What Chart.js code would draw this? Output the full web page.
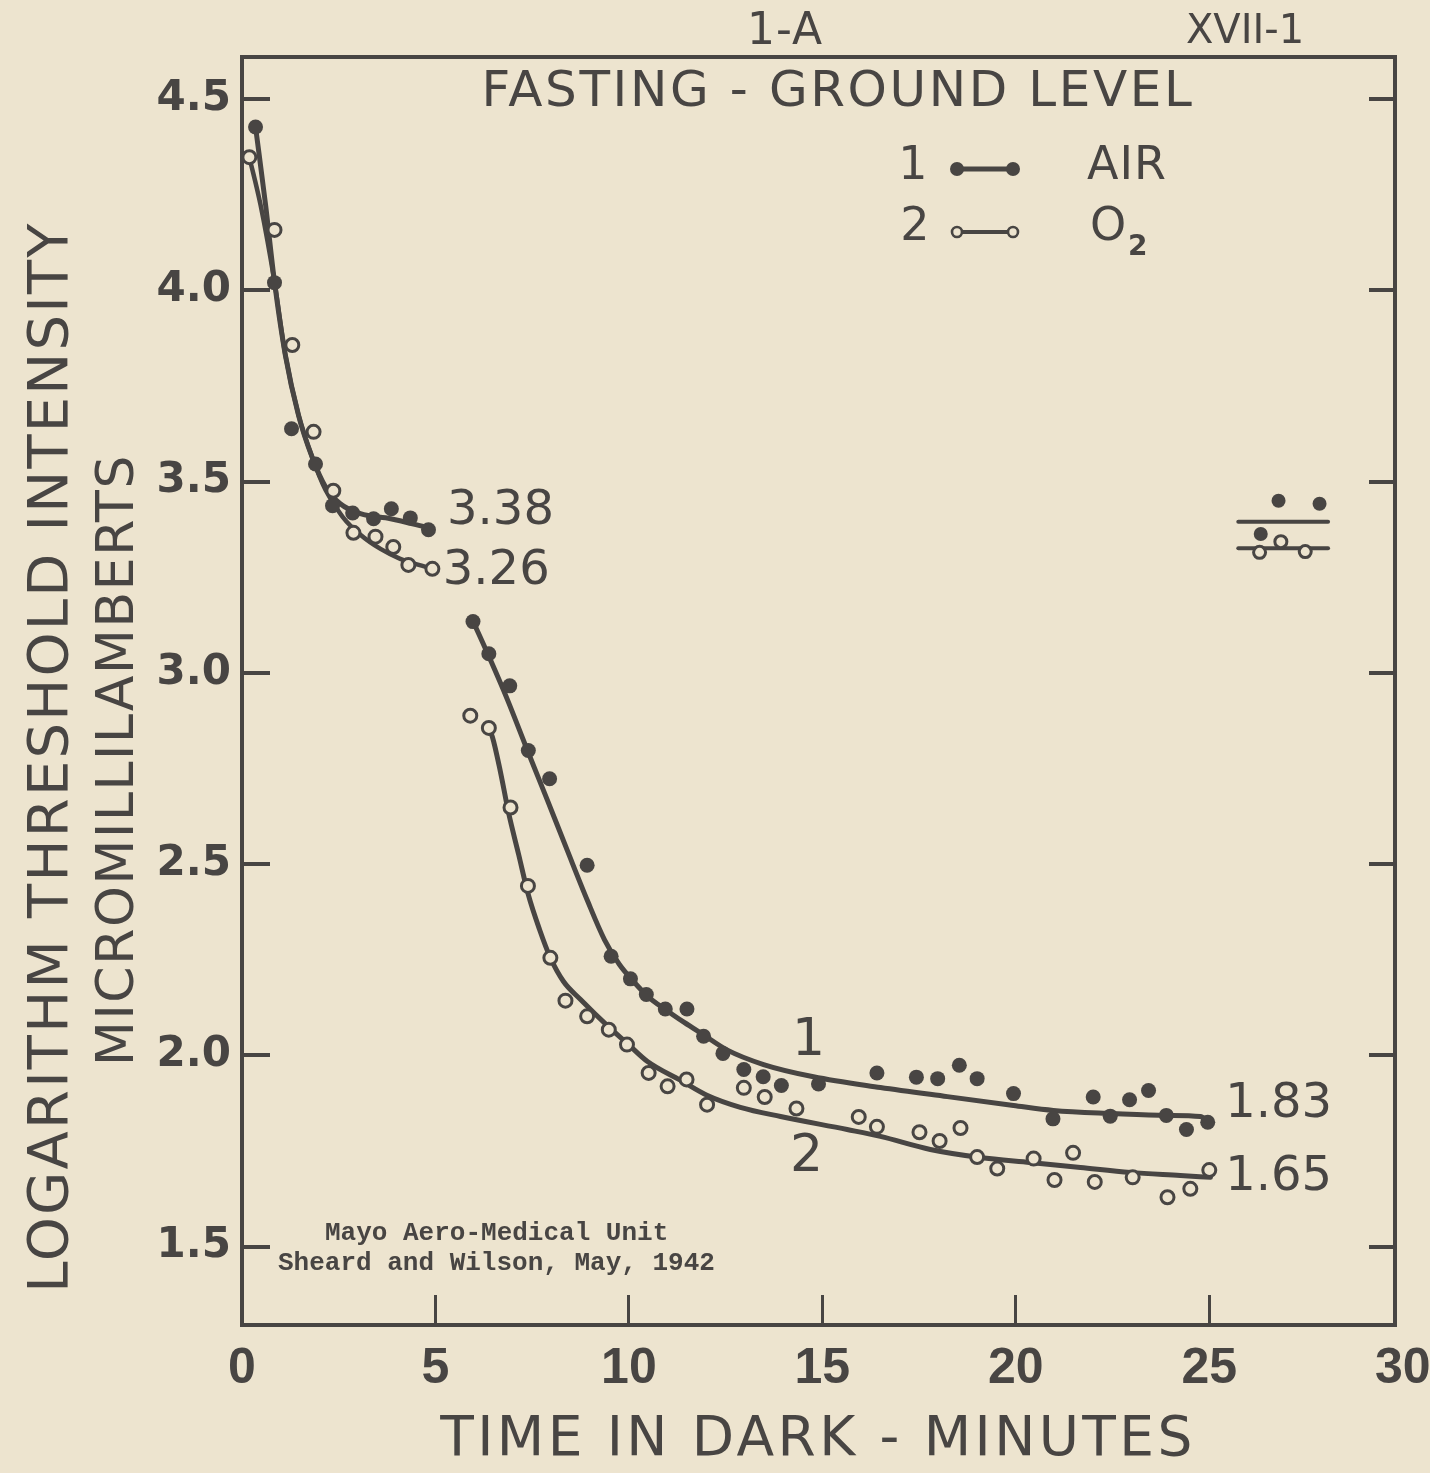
<!DOCTYPE html>
<html>
<head>
<meta charset="utf-8">
<title>Fasting - Ground Level</title>
<script src="https://cdn.jsdelivr.net/npm/chart.js@4.4.1/dist/chart.umd.min.js"></script>
<style>
  html, body { margin: 0; padding: 0; background: #ede4cf; }
  #wrap { width: 1430px; height: 1473px; }
</style>
</head>
<body>
<div id="wrap"><canvas id="chart" width="1430" height="1473"></canvas></div>
<script>
// --- Data (time in dark, minutes / log threshold) ---
const airTime = [0.35, 0.84, 1.28, 1.90, 2.34, 2.86, 3.40, 3.86, 4.35, 4.82,
  5.97, 6.38, 6.92, 7.40, 7.95, 8.92, 9.54, 10.04, 10.45, 10.94, 11.50, 11.93, 12.43, 12.97,
  13.47, 13.94, 14.90, 16.41, 17.43, 17.98, 18.54, 19.00, 19.94, 20.96, 22.00, 22.44, 22.94,
  23.43, 23.89, 24.41, 24.96];
const airLog = [4.427, 4.02, 3.638, 3.546, 3.437, 3.418, 3.403, 3.429, 3.405, 3.374,
  3.134, 3.050, 2.966, 2.797, 2.723, 2.497, 2.259, 2.200, 2.159, 2.121, 2.121, 2.050, 2.005, 1.963,
  1.944, 1.921, 1.925, 1.954, 1.943, 1.939, 1.974, 1.939, 1.900, 1.834, 1.891, 1.841, 1.884,
  1.908, 1.843, 1.806, 1.825];

const o2Time = [0.19, 0.84, 1.30, 1.85, 2.36, 2.88, 3.45, 3.91, 4.30, 4.92,
  5.90, 6.38, 6.94, 7.39, 7.97, 8.36, 8.92, 9.48, 9.95, 10.51, 11.00, 11.49, 12.02, 12.97,
  13.51, 14.33, 15.94, 16.41, 17.51, 18.03, 18.57, 19.00, 19.52, 20.46, 21.00, 21.48, 22.04,
  23.02, 23.92, 24.51, 25.00];
const o2Log = [4.348, 4.158, 3.857, 3.630, 3.476, 3.366, 3.356, 3.329, 3.282, 3.272,
  2.888, 2.856, 2.648, 2.443, 2.255, 2.143, 2.102, 2.067, 2.028, 1.954, 1.919, 1.937, 1.871, 1.915,
  1.891, 1.861, 1.839, 1.813, 1.799, 1.776, 1.810, 1.734, 1.704, 1.730, 1.674, 1.745, 1.669,
  1.681, 1.629, 1.651, 1.700];

// hand-drawn smooth curves
const airFitEarlyT = [0.35, 0.61, 0.84, 1.12, 1.46, 1.82, 2.16, 2.54, 3.06, 3.84, 4.82];
const airFitEarlyV = [4.427, 4.223, 4.022, 3.831, 3.674, 3.562, 3.486, 3.442, 3.416, 3.403, 3.379];
const o2FitEarlyT = [0.19, 0.48, 0.84, 1.12, 1.46, 1.82, 2.16, 2.60, 3.06, 3.58, 4.09, 4.92];
const o2FitEarlyV = [4.348, 4.223, 4.022, 3.831, 3.674, 3.562, 3.478, 3.408, 3.361, 3.324, 3.298, 3.272];

const airFitLateT = [5.98, 6.42, 6.86, 7.37, 7.89, 8.41, 8.93, 9.37, 9.75, 10.12, 10.50, 10.94,
  11.43, 11.92, 12.52, 13.48, 14.77, 16.50, 18.23, 19.94, 20.97, 22.52, 23.92, 24.77, 24.97];
const airFitLateV = [3.133, 3.034, 2.930, 2.799, 2.668, 2.535, 2.404, 2.302, 2.238, 2.193, 2.153, 2.120,
  2.086, 2.054, 2.015, 1.976, 1.944, 1.916, 1.892, 1.869, 1.856, 1.848, 1.843, 1.840, 1.827];
const o2FitLateT = [6.37, 6.47, 6.68, 6.89, 7.15, 7.40, 7.69, 7.97, 8.31, 8.75, 9.47, 9.96, 10.48,
  11.33, 12.03, 12.88, 13.92, 15.64, 16.50, 17.79, 19.08, 20.37, 21.67, 22.96, 24.25, 25.03];
const o2FitLateV = [2.856, 2.833, 2.741, 2.634, 2.525, 2.420, 2.329, 2.255, 2.193, 2.146, 2.075, 2.031, 1.984,
  1.935, 1.895, 1.864, 1.840, 1.806, 1.788, 1.754, 1.733, 1.720, 1.707, 1.694, 1.686, 1.681];

// marks at the right edge (after the run)
const restAirT = [26.79, 27.85, 26.33];
const restAirV = [3.450, 3.442, 3.363];
const restO2T = [26.85, 26.30, 27.48];
const restO2V = [3.343, 3.315, 3.317];
const restLineT = [25.75, 28.07];
const restAirLine = [3.395, 3.395];
const restO2Line = [3.326, 3.326];

const xTicks = [0, 5, 10, 15, 20, 25, 30];
const yTicks = [1.5, 2.0, 2.5, 3.0, 3.5, 4.0, 4.5];

// --- Styling ---
const INK = '#484543';
const PAPER = '#ede4cf';
const LETTER = '"DejaVu Sans", "Liberation Sans", sans-serif';

const pts = (xs, ys) => xs.map((x, i) => ({ x: x, y: ys[i] }));

const fitLine = (xs, ys, w) => ({
    type: 'line',
    data: pts(xs, ys),
    borderColor: INK,
    borderWidth: w,
    pointRadius: 0,
    fill: false,
    cubicInterpolationMode: 'monotone',
    borderCapStyle: 'round'
});

const filledDots = (xs, ys, r) => ({
    type: 'scatter',
    data: pts(xs, ys),
    pointRadius: r,
    pointBackgroundColor: INK,
    pointBorderColor: INK,
    pointBorderWidth: 0,
    showLine: false
});

const openDots = (xs, ys, r) => ({
    type: 'scatter',
    data: pts(xs, ys),
    pointRadius: r,
    pointBackgroundColor: PAPER,
    pointBorderColor: INK,
    pointBorderWidth: 3,
    showLine: false
});

// draw one piece of lettering, with a little letter spacing like the stencil lettering
function letter(ctx, text, x, y, size, align, spacing) {
    ctx.font = size + 'px ' + LETTER;
    ctx.textAlign = align;
    ctx.letterSpacing = (spacing || 0) + 'px';
    ctx.fillText(text, x, y);
    ctx.letterSpacing = '0px';
}

// --- Lettering drawn on top (titles, legend, curve labels) ---
const lettering = {
    id: 'lettering',
    beforeDraw(chart) {
        const ctx = chart.ctx;
        ctx.save();
        ctx.fillStyle = PAPER;
        ctx.fillRect(0, 0, chart.width, chart.height);
        ctx.restore();
    },
    afterDraw(chart) {
        const ctx = chart.ctx;
        const xs = chart.scales.x, ys = chart.scales.y;
        ctx.save();
        ctx.fillStyle = INK;
        ctx.strokeStyle = INK;
        ctx.textBaseline = 'middle';

        // y-axis title, two lines
        ctx.save();
        ctx.translate(52, 757);
        ctx.rotate(-Math.PI / 2);
        letter(ctx, 'LOGARITHM THRESHOLD INTENSITY', 0, 0, 56, 'center', 2.2);
        ctx.restore();
        ctx.save();
        ctx.translate(119, 760);
        ctx.rotate(-Math.PI / 2);
        letter(ctx, 'MICROMILLILAMBERTS', 0, 0, 52, 'center', 1.6);
        ctx.restore();

        // x-axis title
        letter(ctx, 'TIME IN DARK - MINUTES', 818, 1441, 55, 'center', 3.4);

        // headings
        letter(ctx, '1-A', 785, 33, 44, 'center', 1);
        letter(ctx, 'XVII-1', 1245, 33, 40, 'center', 0);
        letter(ctx, 'FASTING - GROUND LEVEL', 838, 93, 50, 'center', 2.6);

        // legend
        letter(ctx, '1', 913, 167, 46, 'center');
        letter(ctx, '2', 915, 228, 46, 'center');
        letter(ctx, 'AIR', 1087, 167, 46, 'left', 1);
        letter(ctx, 'O', 1090, 228, 46, 'left');
        ctx.font = 'bold 28px ' + LETTER;
        ctx.fillText('2', 1128, 248);

        ctx.lineWidth = 5;
        ctx.beginPath(); ctx.moveTo(957, 169); ctx.lineTo(1013, 169); ctx.stroke();
        [957, 1013].forEach(x => { ctx.beginPath(); ctx.arc(x, 169, 7, 0, Math.PI * 2); ctx.fill(); });
        ctx.lineWidth = 4;
        ctx.beginPath(); ctx.moveTo(957, 232); ctx.lineTo(1013, 232); ctx.stroke();
        ctx.lineWidth = 2.6;
        [957, 1013].forEach(x => {
            ctx.beginPath(); ctx.arc(x, 232, 5, 0, Math.PI * 2);
            ctx.fillStyle = PAPER; ctx.fill();
            ctx.strokeStyle = INK; ctx.stroke();
        });
        ctx.fillStyle = INK;

        // curve labels, placed in data coordinates
        const curveLabels = [
            { text: '3.38', t: 5.30, v: 3.421, align: 'left', size: 48 },
            { text: '3.26', t: 5.19, v: 3.264, align: 'left', size: 48 },
            { text: '1.83', t: 25.41, v: 1.871, align: 'left', size: 48 },
            { text: '1.65', t: 25.41, v: 1.681, align: 'left', size: 48 },
            { text: '1', t: 14.64, v: 2.035, align: 'center', size: 52 },
            { text: '2', t: 14.59, v: 1.733, align: 'center', size: 52 }
        ];
        curveLabels.forEach(l => {
            letter(ctx, l.text, xs.getPixelForValue(l.t), ys.getPixelForValue(l.v), l.size, l.align);
        });

        // typewritten credit
        ctx.textAlign = 'left';
        ctx.font = 'bold 26px "Liberation Mono", "DejaVu Sans Mono", monospace';
        ctx.fillText('Mayo Aero-Medical Unit', 325, 1233);
        ctx.fillText('Sheard and Wilson, May, 1942', 278, 1263);
        ctx.restore();
    }
};

const hideEdgeTicks = c => (c.tick && (c.tick.value === 0 || c.tick.value === 30)) ? 'rgba(0,0,0,0)' : INK;
const noPadding = s => { s.paddingLeft = 0; s.paddingRight = 0; s.paddingTop = 0; s.paddingBottom = 0; };

new Chart(document.getElementById('chart').getContext('2d'), {
    data: {
        datasets: [
            filledDots(airTime, airLog, 7.5),
            openDots(o2Time, o2Log, 6.5),
            filledDots(restAirT, restAirV, 7),
            openDots(restO2T, restO2V, 6),
            fitLine(airFitEarlyT, airFitEarlyV, 5),
            fitLine(o2FitEarlyT, o2FitEarlyV, 4.5),
            fitLine(airFitLateT, airFitLateV, 5),
            fitLine(o2FitLateT, o2FitLateV, 5),
            fitLine(restLineT, restAirLine, 4),
            fitLine(restLineT, restO2Line, 4)
        ]
    },
    options: {
        responsive: false,
        animation: false,
        events: [],
        layout: { padding: 0 },
        plugins: { legend: { display: false }, tooltip: { enabled: false }, title: { display: false } },
        scales: {
            x: {
                type: 'linear', position: 'bottom', min: 0, max: 29.8,
                afterBuildTicks: s => { s.ticks = xTicks.map(v => ({ value: v })); },
                afterFit: s => { s.height = 148; noPadding(s); },
                ticks: {
                    callback: v => String(v), autoSkip: false, maxRotation: 0, padding: 44, color: INK,
                    font: { family: '"Liberation Sans", sans-serif', weight: 'bold', size: 50 }
                },
                grid: { drawOnChartArea: false, drawTicks: true, tickLength: -30, lineWidth: 3, color: hideEdgeTicks },
                border: { display: true, color: INK, width: 4 }
            },
            x2: {
                type: 'linear', position: 'top', min: 0, max: 29.8,
                afterFit: s => { s.height = 57; noPadding(s); },
                ticks: { display: false },
                grid: { display: false },
                border: { display: true, color: INK, width: 4 }
            },
            y: {
                type: 'linear', position: 'left', min: 1.295, max: 4.61,
                afterBuildTicks: s => { s.ticks = yTicks.map(v => ({ value: v })); },
                afterFit: s => { s.width = 242; noPadding(s); },
                ticks: {
                    callback: v => v.toFixed(1), padding: 39, color: INK,
                    font: { family: LETTER, weight: 'bold', size: 42 }
                },
                grid: { drawOnChartArea: false, drawTicks: true, tickLength: -28, lineWidth: 4, color: INK },
                border: { display: true, color: INK, width: 4 }
            },
            y2: {
                type: 'linear', position: 'right', min: 1.295, max: 4.61,
                afterBuildTicks: s => { s.ticks = yTicks.map(v => ({ value: v })); },
                afterFit: s => { s.width = 35; noPadding(s); },
                ticks: { display: false },
                grid: { drawOnChartArea: false, drawTicks: true, tickLength: -26, lineWidth: 4, color: INK },
                border: { display: true, color: INK, width: 4 }
            }
        }
    },
    plugins: [lettering]
});
</script>
</body>
</html>
